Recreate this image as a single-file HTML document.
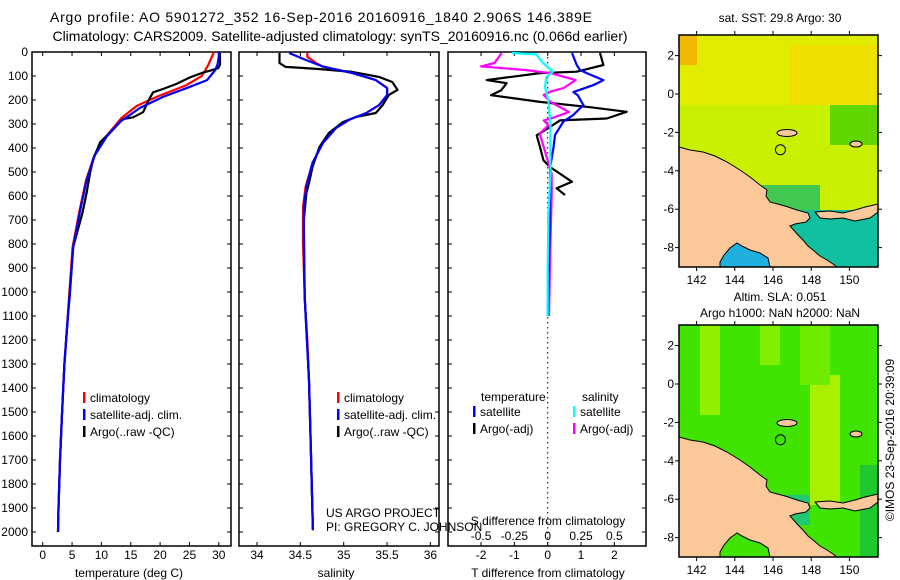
<!DOCTYPE html>
<html><head><meta charset="utf-8"><style>
html,body{margin:0;padding:0;background:#fff;}
svg{display:block;font-family:"Liberation Sans",sans-serif;}
</style></head><body>
<svg id="c" width="900" height="580" viewBox="0 0 900 580" xmlns="http://www.w3.org/2000/svg">
<rect width="900" height="580" fill="#fff"/>
<text x="50" y="22" font-size="14" textLength="542" lengthAdjust="spacing">Argo profile: AO 5901272_352 16-Sep-2016 20160916_1840 2.906S 146.389E</text>
<text x="340" y="41" font-size="14" text-anchor="middle">Climatology: CARS2009. Satellite-adjusted climatology: synTS_20160916.nc (0.066d earlier)</text>
<g id="g1"></g>
<g id="g2"></g>
<g id="g3"></g>
<g id="m1"></g>
<g id="m2"></g>
<text x="780" y="22" font-size="12" text-anchor="middle">sat. SST: 29.8 Argo: 30</text>
<text x="780" y="301" font-size="12" text-anchor="middle">Altim. SLA: 0.051</text>
<text x="780" y="317" font-size="12" text-anchor="middle">Argo h1000: NaN h2000: NaN</text>
<text transform="translate(894,440) rotate(-90)" font-size="12" text-anchor="middle">©IMOS 23-Sep-2016 20:39:09</text>
</svg>
<script>
// ---- data ----
const tempSatDepth=[0,20,50,75,117,145,187,233,290,352,430,533,658,812,1020,1100,1300,1500,1700,1900,2000];
const tempSat=[30.0,30.0,29.8,29.4,28,25.1,20.5,16.6,13.2,10.9,8.9,7.5,6.4,5.2,4.6,4.3,3.7,3.3,2.95,2.7,2.6];
const tempClimDepth=[0,4,54,100,138,187,225,275,352,430,533,658,812,1020,1300,1500,1700,1900,2000];
const tempClim=[29.2,29.1,28.2,27.1,24.5,19.4,16.0,13.4,10.8,8.8,7.4,6.3,5.1,4.5,3.7,3.3,2.95,2.7,2.6];
const tempArgoDepth=[4,53,67,78,85,106,133,154,168,203,251,272,279,335,376,446,501,585,668,812,1020,1300,1500,1700,1900,2000];
const tempArgo=[30.2,30.2,29.9,28.5,27.4,25.1,22.8,20.5,18.8,18.0,17.1,15.4,13.7,11.5,9.8,8.6,8.1,7.5,6.8,5.2,4.55,3.7,3.3,2.95,2.7,2.6];
const salSatDepth=[4,33,61,88,117,150,179,221,254,283,317,379,462,562,646,783,1021,1367,1646,1992];
const salSat=[34.37,34.56,34.76,35.1,35.37,35.5,35.5,35.41,35.26,35.06,34.91,34.76,34.64,34.57,34.54,34.54,34.55,34.6,34.62,34.645];
const salClimDepth=[4,20,46,61,88,117,150,179,221,254,283,317,379,462,562,646,700,800,900,1021,1200,1367,1646,1992];
const salClim=[34.58,34.58,34.68,34.76,35.1,35.37,35.5,35.5,35.41,35.26,35.06,34.91,34.76,34.64,34.56,34.53,34.53,34.53,34.54,34.55,34.58,34.6,34.62,34.645];
const salArgoDepth=[4,46,62,71,83,104,125,158,179,221,254,271,292,337,396,479,546,587,700,1021,1367,1646,1992];
const salArgo=[34.26,34.26,34.33,34.71,35.1,35.41,35.56,35.62,35.52,35.45,35.37,35.14,34.99,34.83,34.72,34.64,34.6,34.57,34.54,34.55,34.6,34.62,34.645];
const dTArgoDepth=[4,54,82,88,117,130,160,180,208,230,249,277,285,312,347,396,451,479,541,568,596];
const dTArgo=[1.57,1.67,0.87,-0.23,-1.83,-1.23,-1.4,-1.7,-0.23,1.27,2.37,1.77,0.37,0.07,-0.33,-0.23,-0.13,0.07,0.73,0.27,0.52];
const dTSatDepth=[4,54,75,88,117,138,167,180,221,262,290,346,401,485,680,900,1100];
const dTSat=[0.73,0.87,0.97,1.17,1.67,1.37,0.77,0.9,1.07,0.77,0.47,0.22,0.17,0.07,0.07,0.03,0.0];
const dSArgoDepth=[4,46,60,75,88,117,150,165,179,208,250,278,285,306,340,396,508,590,800,1100];
const dSArgo=[-0.345,-0.4,-0.5,-0.17,0.02,0.21,0.12,0.02,-0.03,0.02,0.16,0.02,-0.03,0.005,-0.06,-0.03,0.03,0.03,0.02,0.01];
const dSSatDepth=[4,10,46,82,104,146,202,299,507,680,900,1100];
const dSSat=[-0.27,-0.085,-0.035,0.04,-0.01,-0.02,0.005,0.02,0.02,0.005,0.0,0.0];
const depthTicks=[0,100,200,300,400,500,600,700,800,900,1000,1100,1200,1300,1400,1500,1600,1700,1800,1900,2000];
const tempTicks=[0,5,10,15,20,25,30];
const salTicks=[34,34.5,35,35.5,36];
const dTTicks=[-2,-1,0,1,2];
const dSTicks=[-0.5,-0.25,0,0.25,0.5];
const lonTicks=[142,144,146,148,150];
const latTicks=[2,0,-2,-4,-6,-8];

const NS='http://www.w3.org/2000/svg';
function mk(parent,tag,attrs,txt){const e=document.createElementNS(NS,tag);for(const k in attrs)e.setAttribute(k,attrs[k]);if(txt!==undefined)e.textContent=txt;parent.appendChild(e);return e;}
const TOP=52,BOT=546;
const yD=d=>TOP+d*0.24;
const xT=t=>42.7+t*5.87;
const xS=s=>257+(s-34)*86.7;
const xdT=t=>547.7+t*33.33;
const xdS=s=>547.7+s*133.3;

function frame(g,L,R,name){
  const r=mk(g,'rect',{x:L,y:TOP,width:R-L,height:BOT-TOP,fill:'none',stroke:'#000','stroke-width':1.5});
  
  
  depthTicks.forEach(d=>{
    const t1=mk(g,'line',{x1:L,x2:L+4,y1:yD(d),y2:yD(d),stroke:'#000'});
    
    
    const t2=mk(g,'line',{x1:R-4,x2:R,y1:yD(d),y2:yD(d),stroke:'#000'});
    
    
  });
}
function xticks(g,ticks,fx,labY,fmt,top){
  ticks.forEach(v=>{
    const x=fx(v);
    const a=mk(g,'line',{x1:x,x2:x,y1:BOT-4,y2:BOT,stroke:'#000'});
    
    
    if(top){const b=mk(g,'line',{x1:x,x2:x,y1:TOP,y2:TOP+4,stroke:'#000'});
      
      }
    const t=mk(g,'text',{x:x,y:labY,'font-size':12,'text-anchor':'middle'},fmt?fmt(v):String(v));
    
    
  });
}
function line(g,xs,ds,fx,color,name){
  const pts=xs.map((v,i)=>fx(v).toFixed(1)+','+yD(ds[i]).toFixed(1)).join(' ');
  const p=mk(g,'polyline',{points:pts,fill:'none',stroke:color,'stroke-width':2.2,'stroke-linejoin':'round'});
  
  
}
function legend(g,x,y,items){
  items.forEach((it,i)=>{
    const b=mk(g,'rect',{x:x,y:y+i*17-10,width:2.5,height:11,fill:it[0]});
    
    
    const t=mk(g,'text',{x:x+7,y:y+i*17,'font-size':12},it[1]);
    
    
  });
}
// Panel 1
const g1=document.getElementById('g1');
frame(g1,32,231,'temperature-panel');
xticks(g1,tempTicks,xT,559,null,true);
depthTicks.forEach(d=>{
  const t=mk(g1,'text',{x:28,y:yD(d)+4,'font-size':12,'text-anchor':'end'},String(d));
  
  
});
const xl1=mk(g1,'text',{x:129,y:577,'font-size':12,'text-anchor':'middle'},'temperature (deg C)');


line(g1,tempClim,tempClimDepth,xT,'#f00','temp-climatology-line');
line(g1,tempArgo,tempArgoDepth,xT,'#000','temp-argo-line');
line(g1,tempSat,tempSatDepth,xT,'#00f','temp-satellite-line');
legend(g1,83,402,[['#f00','climatology'],['#00f','satellite-adj. clim.'],['#000','Argo(..raw -QC)']]);
// Panel 2
const g2=document.getElementById('g2');
frame(g2,239,439,'salinity-panel');
xticks(g2,salTicks,xS,559,null,true);
const xl2=mk(g2,'text',{x:336,y:577,'font-size':12,'text-anchor':'middle'},'salinity');


line(g2,salClim,salClimDepth,xS,'#f00','sal-climatology-line');
line(g2,salArgo,salArgoDepth,xS,'#000','sal-argo-line');
line(g2,salSat,salSatDepth,xS,'#00f','sal-satellite-line');
legend(g2,337,402,[['#f00','climatology'],['#00f','satellite-adj. clim.'],['#000','Argo(..raw -QC)']]);
const us1=mk(g2,'text',{x:326,y:517,'font-size':12},'US ARGO PROJECT');


const us2=mk(g2,'text',{x:326,y:531,'font-size':12},'PI: GREGORY C. JOHNSON');


// Panel 3
const g3=document.getElementById('g3');
frame(g3,448,646,'difference-panel');
const zl=mk(g3,'line',{x1:xdT(0),x2:xdT(0),y1:TOP,y2:BOT,stroke:'#000','stroke-dasharray':'1.5,3.5'});


xticks(g3,dTTicks,xdT,559,null,false);
dSTicks.forEach(v=>{
  const x=xdS(v);
  const b=mk(g3,'line',{x1:x,x2:x,y1:TOP,y2:TOP+4,stroke:'#000'});
  
  
  const t=mk(g3,'text',{x:x,y:540,'font-size':12,'text-anchor':'middle'},String(v));
  
  
});
const sl=mk(g3,'text',{x:548,y:525,'font-size':12,'text-anchor':'middle'},'S difference from climatology');


const tl=mk(g3,'text',{x:548,y:577,'font-size':12,'text-anchor':'middle'},'T difference from climatology');


line(g3,dTArgo,dTArgoDepth,xdT,'#000','t-diff-argo-line');
line(g3,dSArgo,dSArgoDepth,xdS,'#f0f','s-diff-argo-line');
line(g3,dTSat,dTSatDepth,xdT,'#00f','t-diff-satellite-line');
line(g3,dSSat,dSSatDepth,xdS,'#0ff','s-diff-satellite-line');
const h1=mk(g3,'text',{x:481,y:401,'font-size':12},'temperature');


const h2=mk(g3,'text',{x:582,y:401,'font-size':12},'salinity');


legend(g3,473,416,[['#00f','satellite'],['#000','Argo(-adj)']]);
legend(g3,573,416,[['#0ff','satellite'],['#f0f','Argo(-adj)']]);

// Maps
const ML=679,MR=878,MW=199,MH=232;
const mLon=lon=>773+(lon-146)*19.1;
function landPts(dy){
  const main=[[679,147],[690,150],[703,152],[715,156],[727,162],[740,170],[750,177],[760,185],[767,190],[766,196],[770,202],[785,206],[797,210],[808,213],[810,218],[806,222],[795,224],[790,226],[798,235],[803,240],[808,246],[813,250],[820,256],[827,260],[833,264],[837,267],[770,267],[768,258],[760,253],[750,250],[742,246],[737,243],[730,248],[724,255],[720,262],[720,267],[679,267]];
  const nb=[[815,212],[830,211],[843,213],[855,210],[865,207],[878,204],[878,212],[870,218],[855,221],[843,218],[830,219],[820,218]];
  return [main.map(p=>p[0]+','+(p[1]+dy)).join(' '),nb.map(p=>p[0]+','+(p[1]+dy)).join(' ')];
}
function drawMap(g,top,latZero,kind){
  const dy=top-35;
  if(kind==='sst'){
    mk(g,'rect',{x:ML,y:top,width:MW,height:MH,fill:'#c8f000'});
    mk(g,'rect',{x:ML,y:top,width:MW,height:70,fill:'#e0ec00'});
    mk(g,'rect',{x:790,y:top+10,width:88,height:60,fill:'#f0e000'});
    mk(g,'rect',{x:ML,y:top,width:18,height:30,fill:'#f0b800'});
    mk(g,'rect',{x:830,y:top+70,width:48,height:40,fill:'#60d800'});
    mk(g,'rect',{x:760,y:top+150,width:60,height:25,fill:'#40c850'});
    mk(g,'rect',{x:790,y:top+175,width:88,height:57,fill:'#10c0a0'});
    mk(g,'rect',{x:720,y:top+205,width:55,height:27,fill:'#20b0e0'});
  } else {
    mk(g,'rect',{x:ML,y:top,width:MW,height:MH,fill:'#40e400'});
    mk(g,'rect',{x:700,y:top,width:20,height:90,fill:'#90f000'});
    mk(g,'rect',{x:760,y:top,width:20,height:40,fill:'#80f000'});
    mk(g,'rect',{x:810,y:top+50,width:30,height:130,fill:'#a8f000'});
    mk(g,'rect',{x:800,y:top,width:30,height:60,fill:'#70ec00'});
    mk(g,'rect',{x:860,y:top+140,width:18,height:92,fill:'#20c830'});
    mk(g,'rect',{x:770,y:top+170,width:40,height:30,fill:'#20c870'});
  }
  const lp=landPts(dy);
  const l1=mk(g,'polygon',{points:lp[0],fill:'#fbc89a',stroke:'#000','stroke-width':1});
  
  
  const l2=mk(g,'polygon',{points:lp[1],fill:'#fbc89a',stroke:'#000','stroke-width':1});
  
  
  const is1=mk(g,'ellipse',{cx:787,cy:133+dy,rx:10,ry:3.5,fill:'#fbc89a',stroke:'#000'});
  
  
  const is2=mk(g,'ellipse',{cx:856,cy:144+dy,rx:6,ry:3,fill:'#fbc89a',stroke:'#000'});
  
  
  const c=mk(g,'circle',{cx:mLon(146.389),cy:latZero+2.906*19.2,r:5,fill:'none',stroke:'#000'});
  
  
  const f=mk(g,'rect',{x:ML,y:top,width:MW,height:MH,fill:'none',stroke:'#000','stroke-width':1.5});
  
  
  lonTicks.forEach(lon=>{
    const x=mLon(lon);
    mk(g,'line',{x1:x,x2:x,y1:top-4,y2:top,stroke:'#000'});
    mk(g,'line',{x1:x,x2:x,y1:top+MH,y2:top+MH+4,stroke:'#000'});
    const t=mk(g,'text',{x:x,y:top+MH+17,'font-size':12,'text-anchor':'middle'},String(lon));
    
    
  });
  latTicks.forEach(lat=>{
    const y=latZero-lat*19.2;
    mk(g,'line',{x1:ML-4,x2:ML,y1:y,y2:y,stroke:'#000'});
    mk(g,'line',{x1:MR,x2:MR+4,y1:y,y2:y,stroke:'#000'});
    const t=mk(g,'text',{x:674,y:y+4,'font-size':12,'text-anchor':'end'},String(lat));
    
    
  });
}
drawMap(document.getElementById('m1'),35,94,'sst');
drawMap(document.getElementById('m2'),325,384,'sla');
</script>
</body></html>
